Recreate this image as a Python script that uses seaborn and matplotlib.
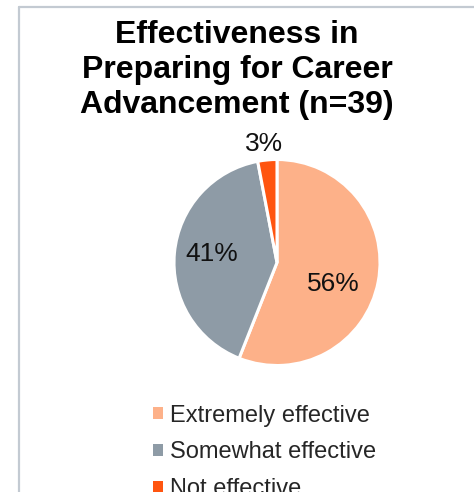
import matplotlib
matplotlib.use("Agg")
import matplotlib.pyplot as plt
import seaborn as sns
from matplotlib.patches import Patch
from matplotlib.lines import Line2D

categories = ["Extremely effective", "Somewhat effective", "Not effective"]
percents = [56, 41, 3]
colors = ["#FDB189", "#8E9BA6", "#FF5510"]
title = "Effectiveness in\nPreparing for Career\nAdvancement (n=39)"

sns.set_theme(style="white")
plt.rcParams["font.family"] = ["Liberation Sans", "DejaVu Sans"]

W, H = 474, 492
fig = plt.figure(figsize=(W / 100, H / 100), dpi=100)
fig.patch.set_facecolor("white")

# pie axes: center (277, 262), radius ~103 px
cx, cy, r = 277, 262.5, 103
ax = fig.add_axes([(cx - r) / W, (H - cy - r) / H, 2 * r / W, 2 * r / H])
wedges, texts, autotexts = ax.pie(
    percents, colors=colors, startangle=90, counterclock=False,
    autopct=lambda p: f"{p:.0f}%", pctdistance=0.6,
    wedgeprops=dict(edgecolor="white", linewidth=2.2),
    textprops=dict(fontsize=19, color="#111111"),
)
ax.set_xlim(-1, 1)
ax.set_ylim(-1, 1)
ax.set_aspect("equal")
# label placement (layout)
label_pos = [(0.55, -0.21), (-0.63, 0.08), (-0.13, 1.15)]
for t, p in zip(autotexts, label_pos):
    t.set_position(p)
    t.set_ha("center")
    t.set_va("center")

fig.text(0.5, 1 - 70 / H, title, ha="center", va="center", fontsize=23,
         fontweight="bold", linespacing=1.2, color="#000000")

handles = [Patch(facecolor=c, edgecolor="none") for c in colors]
leg = fig.legend(handles, categories, loc="upper left",
                 bbox_to_anchor=(141 / W, 1 - 393 / H), frameon=False,
                 fontsize=17, handlelength=0.42, handleheight=0.42,
                 handletextpad=0.32, labelspacing=0.62, borderpad=0)

frame_col = "#C3CAD2"
fig.add_artist(Line2D([19 / W, 19 / W], [0, 1 - 6.5 / H], color=frame_col, lw=1.6,
                      transform=fig.transFigure))
fig.add_artist(Line2D([19 / W, 1], [1 - 6.5 / H, 1 - 6.5 / H], color=frame_col, lw=1.6,
                      transform=fig.transFigure))

fig.savefig("out.png", dpi=100)
